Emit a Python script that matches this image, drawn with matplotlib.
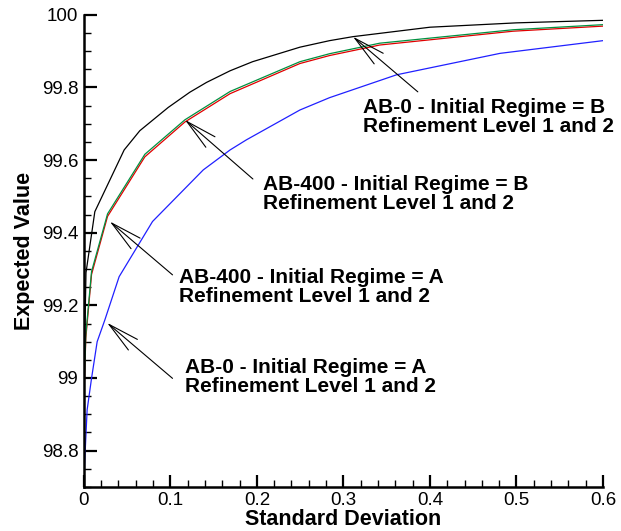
import numpy as np
import matplotlib
matplotlib.use('Agg')
import matplotlib.pyplot as plt
from matplotlib.ticker import MultipleLocator, FuncFormatter

plt.rcParams['font.family'] = ['Liberation Sans', 'DejaVu Sans']

# AB-0, initial regime B (black)
x_ab0_b = [0.0, 0.0025, 0.0127, 0.0466, 0.0647, 0.0975, 0.1225, 0.1418, 0.169, 0.195,
           0.2497, 0.284, 0.311, 0.4, 0.5, 0.6]
y_ab0_b = [98.98, 99.29, 99.458, 99.628, 99.681, 99.745, 99.787, 99.814, 99.846, 99.871,
           99.911, 99.929, 99.940, 99.966, 99.978, 99.985]

# AB-400, initial regime B (green)
x_ab400_b = [0.0, 0.0023, 0.0089, 0.0274, 0.0705, 0.1168, 0.169, 0.2497, 0.284, 0.342,
             0.496, 0.6]
y_ab400_b = [98.95, 99.12, 99.293, 99.452, 99.616, 99.711, 99.789, 99.871, 99.893, 99.922,
             99.959, 99.973]

# AB-400, initial regime A (red)
x_ab400_a = x_ab400_b
y_ab400_a = [98.94, 99.11, 99.285, 99.445, 99.609, 99.705, 99.783, 99.866, 99.888, 99.917,
             99.955, 99.969]

# AB-0, initial regime A (blue)
x_ab0_a = [0.0, 0.0038, 0.0089, 0.0154, 0.0243, 0.0408, 0.0794, 0.138, 0.169, 0.188,
           0.2497, 0.284, 0.3615, 0.481, 0.6]
y_ab0_a = [98.72, 98.912, 98.999, 99.10, 99.16, 99.279, 99.431, 99.573, 99.628, 99.656,
           99.738, 99.772, 99.835, 99.894, 99.929]

labels = ['AB-0 - Initial Regime = B\nRefinement Level 1 and 2',
          'AB-400 - Initial Regime = B\nRefinement Level 1 and 2',
          'AB-400 - Initial Regime = A\nRefinement Level 1 and 2',
          'AB-0 - Initial Regime = A\nRefinement Level 1 and 2']
text_pos = [(0.3225, 99.770), (0.2069, 99.559), (0.110, 99.302), (0.1168, 99.054)]
arrow_head = [(0.311, 99.940), (0.1168, 99.711), (0.030, 99.431), (0.0269, 99.152)]
arrow_tail = [(0.386, 99.788), (0.1954, 99.548), (0.1025, 99.284), (0.1025, 98.999)]

fig = plt.figure(figsize=(6.21, 5.31), dpi=100)
ax = fig.add_axes([0.135, 0.083, 0.836, 0.889])

ax.plot(x_ab0_a, y_ab0_a, color='#2020ff', lw=0.9)
ax.plot(x_ab400_a, y_ab400_a, color='#e00000', lw=0.9)
ax.plot(x_ab400_b, y_ab400_b, color='#009040', lw=0.9)
ax.plot(x_ab0_b, y_ab0_b, color='black', lw=0.9)

ax.set_xlim(0, 0.6)
ax.set_ylim(98.7, 100)

for lab, tp, h, t in zip(labels, text_pos, arrow_head, arrow_tail):
    ax.text(tp[0], tp[1], lab, fontsize=15, fontweight='bold', ha='left', va='top',
            linespacing=1.0)
    ax.annotate('', xy=h, xytext=t,
                arrowprops=dict(arrowstyle='->,head_length=1.8,head_width=0.4',
                                lw=0.8, color='black', shrinkA=0, shrinkB=0,
                                mutation_scale=12.5))

ax.spines['top'].set_visible(False)
ax.spines['right'].set_visible(False)
ax.spines['left'].set_linewidth(1.8)
ax.spines['bottom'].set_linewidth(1.8)

ax.xaxis.set_major_locator(MultipleLocator(0.1))
ax.xaxis.set_minor_locator(MultipleLocator(0.02))
ax.yaxis.set_major_locator(MultipleLocator(0.2))
ax.yaxis.set_minor_locator(MultipleLocator(0.05))
ax.xaxis.set_major_formatter(FuncFormatter(lambda v, p: '%g' % round(v, 3)))
ax.yaxis.set_major_formatter(FuncFormatter(lambda v, p: '%g' % round(v, 3)))

ax.tick_params(which='major', direction='in', length=9, width=1.6, labelsize=13.5, pad=4,
               top=False, right=False)
ax.tick_params(which='minor', direction='in', length=5, width=1.0, top=False, right=False)

ax.set_xlabel('Standard Deviation', fontsize=15.5, fontweight='bold', labelpad=0)
ax.set_ylabel('Expected Value', fontsize=15.5, fontweight='bold', labelpad=5)

fig.savefig('out.png', dpi=100)
